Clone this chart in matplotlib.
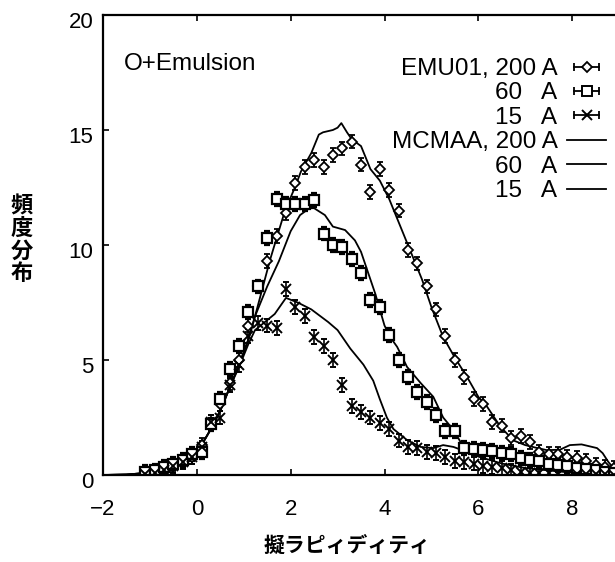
import matplotlib
matplotlib.use("Agg")
import matplotlib.pyplot as plt
import matplotlib.transforms as mtransforms
from matplotlib.lines import Line2D
from matplotlib.legend_handler import HandlerLine2D, HandlerTuple

plt.rcParams['font.family'] = ['Liberation Sans', 'DejaVu Sans']

# ---------------- data ----------------
emu200_x = [-1.1,-0.9,-0.7,-0.5,-0.3,-0.1,0.1,0.3,0.5,0.7,0.9,1.1,1.3,1.5,1.7,1.9,2.1,2.3,2.5,2.7,
            2.9,3.1,3.3,3.5,3.7,3.9,4.1,4.3,4.5,4.7,4.9,5.1,5.3,5.5,5.7,5.9,6.1,6.3,6.5,6.7,6.9,
            7.1,7.3,7.5,7.7,7.9,8.1,8.3,8.5,8.7,8.9]
emu200_y = [0.1,0.15,0.3,0.45,0.6,0.8,1.3,2.2,3.1,4.0,5.0,6.5,8.2,9.3,10.4,11.4,12.7,13.4,13.7,13.4,
            13.9,14.2,14.5,13.5,12.3,13.3,12.4,11.5,9.8,9.2,8.2,7.2,6.05,5.0,4.25,3.3,3.1,2.3,2.15,1.6,1.7,
            1.45,1.0,0.9,0.9,0.8,0.75,0.6,0.45,0.35,0.3]

emu60_x = [-1.1,-0.9,-0.7,-0.5,-0.3,-0.1,0.1,0.3,0.5,0.7,0.9,1.1,1.3,1.5,1.7,1.9,2.1,2.3,2.5,2.7,
           2.9,3.1,3.3,3.5,3.7,3.9,4.1,4.3,4.5,4.7,4.9,5.1,5.3,5.5,5.7,5.9,6.1,6.3,6.5,6.7,6.9,
           7.1,7.3,7.5,7.7,7.9,8.1,8.3,8.5,8.7,8.9]
emu60_y = [0.15,0.2,0.35,0.5,0.65,0.9,1.0,2.2,3.3,4.6,5.6,7.1,8.2,10.3,12.0,11.8,11.8,11.8,11.95,10.5,
           10.0,9.9,9.4,8.8,7.6,7.3,6.1,5.0,4.26,3.6,3.17,2.6,1.9,1.9,1.17,1.15,1.1,1.05,0.95,0.9,0.75,
           0.65,0.6,0.5,0.45,0.4,0.3,0.25,0.2,0.12,0.08]

emu15_x = [-1.1,-0.9,-0.7,-0.5,-0.3,-0.1,0.1,0.3,0.5,0.7,0.9,1.1,1.3,1.5,1.7,1.9,2.1,2.3,2.5,2.7,
           2.9,3.1,3.3,3.5,3.7,3.9,4.1,4.3,4.5,4.7,4.9,5.1,5.3,5.5,5.7,5.9,6.1,6.3,6.5,6.7,6.9,
           7.1,7.3,7.5,7.7,7.9,8.1,8.3,8.5,8.7,8.9]
emu15_y = [0.05,0.1,0.2,0.4,0.55,0.8,1.2,2.3,2.5,3.9,4.8,6.05,6.6,6.5,6.4,8.1,7.3,6.9,6.0,5.6,
           5.0,3.9,3.0,2.75,2.5,2.25,2.0,1.5,1.22,1.17,1.0,0.95,0.8,0.6,0.57,0.5,0.4,0.35,0.3,0.2,0.15,
           0.1,0.1,0.08,0.06,0.05,0.05,0.04,0.03,0.03,0.02]

emu_err = 0.3

mc200_x = [-2.0,-1.5,-1.0,-0.7,-0.5,-0.3,-0.1,0.1,0.3,0.5,0.7,0.9,1.1,1.24,1.41,1.56,1.73,1.88,2.09,2.22,
           2.44,2.6,2.69,2.9,3.0,3.08,3.2,3.3,3.5,3.6,3.7,3.9,4.1,4.3,4.5,4.8,5.0,5.25,5.5,5.76,6.0,
           6.19,6.47,6.75,7.0,7.2,7.46,7.74,7.95,8.2,8.53,8.65,8.77,8.9,9.2]
mc200_y = [0.0,0.02,0.1,0.25,0.4,0.6,0.9,1.3,2.0,2.8,3.8,4.8,5.9,6.9,8.2,9.35,10.5,11.5,12.5,13.2,
           14.0,14.8,14.9,15.0,15.1,15.3,14.9,14.6,14.3,13.8,13.3,12.8,12.0,11.0,10.0,8.5,7.3,6.0,5.1,4.26,3.4,
           2.96,2.1,1.5,1.3,1.2,1.08,1.1,1.3,1.33,1.17,0.95,0.57,0.25,0.05]

mc60_x = [-2.0,-1.5,-1.0,-0.7,-0.5,-0.3,-0.1,0.1,0.3,0.5,0.7,0.9,1.1,1.24,1.5,1.75,2.0,2.2,2.4,2.5,
          2.73,2.9,3.16,3.37,3.5,3.6,3.8,4.0,4.12,4.27,4.48,4.77,5.04,5.25,5.47,5.66,6.05,6.5,7.0,
          7.5,8.0,8.5,9.0,9.3]
mc60_y = [0.0,0.02,0.1,0.25,0.4,0.6,0.9,1.3,2.0,2.8,3.8,4.8,5.9,6.9,8.2,9.3,10.6,11.3,11.6,11.6,
          11.3,10.8,10.65,10.2,9.7,9.1,7.9,6.5,6.0,5.57,4.7,4.0,3.4,2.5,1.96,1.3,1.2,0.8,0.6,
          0.5,0.4,0.3,0.15,0.05]

mc15_x = [-2.0,-1.5,-1.0,-0.7,-0.5,-0.3,-0.1,0.1,0.3,0.5,0.7,0.9,1.1,1.24,1.45,1.66,1.9,2.15,2.44,2.8,
          3.0,3.27,3.55,3.76,3.9,4.05,4.19,4.48,4.77,5.04,5.25,5.47,5.76,6.0,6.5,7.0,7.5,8.0,9.0]
mc15_y = [0.0,0.02,0.1,0.25,0.4,0.6,0.9,1.3,2.0,2.8,3.8,4.7,5.7,6.3,6.65,7.0,7.7,7.5,7.2,6.65,
          6.3,5.5,4.8,4.1,3.3,2.5,2.0,1.52,1.22,1.17,1.3,1.22,1.0,0.8,0.5,0.3,0.2,0.1,0.05]

xticks = [-2, 0, 2, 4, 6, 8]
yticks = [0, 5, 10, 15, 20]
legend_labels = ["EMU01, 200 A", "60   A", "15   A", "MCMAA, 200 A", "60   A", "15   A"]

# ---------------- figure ----------------
W, H = 615, 562
fig = plt.figure(figsize=(W / 100, H / 100), dpi=100)
ax_left, ax_right, ax_top, ax_bottom = 103, 666, 15, 475
ax = fig.add_axes([ax_left / W, 1 - ax_bottom / H, (ax_right - ax_left) / W, (ax_bottom - ax_top) / H])
ax.set_xlim(-2, 10)
ax.set_ylim(0, 20)

lw = 1.3
ax.plot(mc200_x, mc200_y, color='black', lw=lw)
ax.plot(mc60_x, mc60_y, color='black', lw=lw)
ax.plot(mc15_x, mc15_y, color='black', lw=lw)

ebkw = dict(color='black', ecolor='black', elinewidth=1.2, capsize=2.5, capthick=1.2, ls='none')
ax.errorbar(emu200_x, emu200_y, yerr=emu_err, marker='D', ms=5.5, mfc='white', mec='black', mew=1.3, **ebkw)
ax.errorbar(emu60_x, emu60_y, yerr=emu_err, marker='s', ms=7, mfc='white', mec='black', mew=1.6, **ebkw)
ax.errorbar(emu15_x, emu15_y, yerr=emu_err, marker='x', ms=7, mec='black', mew=1.4, **ebkw)

for s in ax.spines.values():
    s.set_linewidth(1.6)
ax.set_xticks(xticks)
ax.set_xticklabels(['\u22122' if t < 0 else str(t) for t in xticks])
ax.set_yticks(yticks)
ax.tick_params(axis='both', direction='in', length=4, width=1.2, labelsize=16,
               top=True, right=True)
ax.tick_params(axis='x', pad=17)
ax.tick_params(axis='y', pad=7)
yoff = mtransforms.ScaledTranslation(0, -5 / 100, fig.dpi_scale_trans)
for lab in ax.get_yticklabels():
    lab.set_transform(lab.get_transform() + yoff)

ax.text((124 - ax_left) / (ax_right - ax_left), (ax_bottom - 64) / (ax_bottom - ax_top),
        "O+Emulsion", transform=ax.transAxes, fontsize=17.5, va='center', ha='left')

# legend
caps = [Line2D([], [], color='black', lw=1.3, marker='|', ms=6, mew=1.3) for _ in range(3)]
mks = [Line2D([], [], ls='none', color='black', marker='D', ms=5.5, mfc='white', mew=1.3),
       Line2D([], [], ls='none', color='black', marker='s', ms=6.5, mfc='white', mew=1.4),
       Line2D([], [], ls='none', color='black', marker='x', ms=7, mew=1.4)]
lines = [Line2D([], [], color='black', lw=1.3) for _ in range(3)]
handles = [(caps[i], mks[i]) for i in range(3)] + lines
hmap = {tuple: HandlerTuple(ndivide=1, pad=0)}
for c in caps:
    hmap[c] = HandlerLine2D(numpoints=2)
leg = ax.legend(handles, legend_labels, handler_map=hmap, loc='upper right',
                bbox_to_anchor=(606 / W, 1 - 58 / H), bbox_transform=fig.transFigure,
                frameon=False, markerfirst=False, fontsize=17.5, labelspacing=0.1,
                handlelength=1.6, handletextpad=0.4, borderpad=0, borderaxespad=0)

# axis labels (Japanese)
fig.text(347 / W, 1 - 545 / H, "擬ラピィディティ", fontsize=15, ha='center', va='center',
         family=['Noto Sans CJK JP', 'DejaVu Sans'], fontweight='bold')
fig.text(22 / W, 1 - 240 / H, "頻\n度\n分\n布", fontsize=16, ha='center', va='center',
         family=['Noto Sans CJK JP', 'DejaVu Sans'], fontweight='bold', linespacing=0.97)

fig.savefig("out.png", dpi=100)
